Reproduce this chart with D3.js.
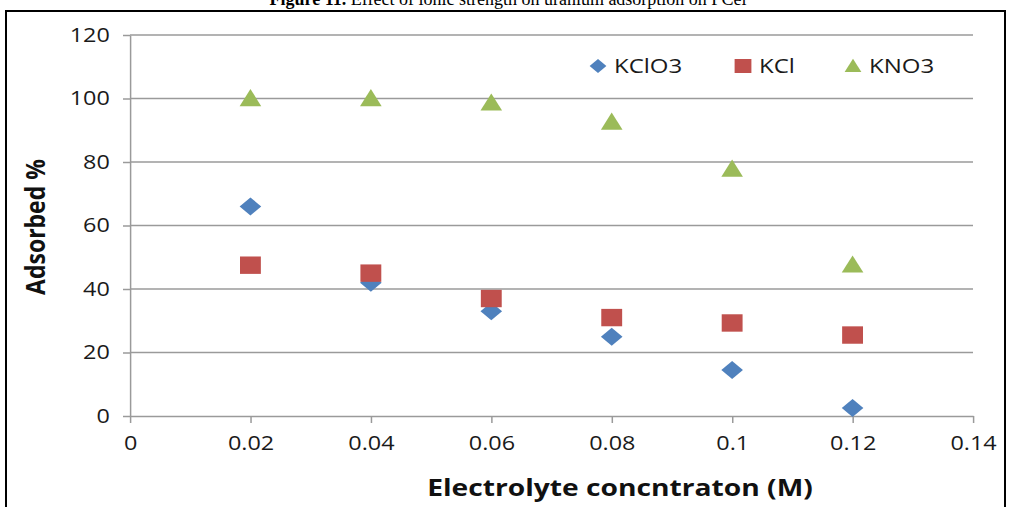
<!DOCTYPE html>
<html>
<head>
<meta charset="utf-8">
<script src="https://cdn.jsdelivr.net/npm/d3@7"></script>
<style>
  body { margin: 0; background: #fff; }
  text { font-family: "Open Sans", "Liberation Sans", sans-serif; }
</style>
</head>
<body>
<div id="chart-area"></div>
<script>
// Datos
var concentrations = [0.02, 0.04, 0.06, 0.08, 0.1, 0.12];
var kclo3 = [66, 42, 33, 25, 14.5, 2.5];
var kcl = [47.5, 45, 37, 31, 29.3, 25.5];
var kno3 = [100, 100, 98.6, 92.6, 77.8, 47.6];
var seriesNames = ["KClO3", "KCl", "KNO3"];
var xTicks = [0, 0.02, 0.04, 0.06, 0.08, 0.1, 0.12, 0.14];
var yTicks = [0, 20, 40, 60, 80, 100, 120];

var colors = ["#4F81BD", "#C0504D", "#9BBB59"];
var seriesValues = [kclo3, kcl, kno3];

var W = 1012, H = 507;
var kx = 1.2; // la imagen original está estirada horizontalmente

var svg = d3.select("#chart-area").append("svg")
    .attr("width", W)
    .attr("height", H);

// Marco negro y título recortado
svg.append("path")
    .attr("d", "M6," + H + "V11H1005V" + H)
    .attr("fill", "none")
    .attr("stroke", "#000")
    .attr("stroke-width", 2);

var title = svg.append("text")
    .attr("x", 508)
    .attr("y", 5)
    .attr("text-anchor", "middle")
    .style("font-family", "'Liberation Serif', serif")
    .style("font-size", "18px");
title.append("tspan").attr("font-weight", "bold").text("Figure 11.");
title.append("tspan").text(" Effect of ionic strength on uranium adsorption on PCel");

// Grupo del gráfico, escalado en x
var g = svg.append("g").attr("transform", "scale(" + kx + ",1)");

var x = d3.scaleLinear().domain([0, 0.14]).range([130 / kx, 973 / kx]);
var y = d3.scaleLinear().domain([0, 120]).range([416, 35]);

// Líneas de cuadrícula
g.append("g").selectAll("line")
    .data(yTicks.filter(function(d) { return d > 0; }))
    .enter().append("line")
    .attr("x1", x(0))
    .attr("x2", x(0.14))
    .attr("y1", function(d) { return y(d); })
    .attr("y2", function(d) { return y(d); })
    .attr("stroke", "#9a9a9a")
    .attr("stroke-width", 1.5)
    .attr("vector-effect", "non-scaling-stroke");

// Ejes
var yAxisGroup = g.append("g")
    .attr("transform", "translate(" + x(0) + ",0)")
    .call(d3.axisLeft(y).tickValues(yTicks).tickSize(7 / kx).tickSizeOuter(0).tickPadding(11));
var xAxisGroup = g.append("g")
    .attr("transform", "translate(0," + y(0) + ")")
    .call(d3.axisBottom(x).tickValues(xTicks).tickSize(7).tickSizeOuter(0)
        .tickPadding(10).tickFormat(function(d) { return String(+d.toFixed(2)); }));

[yAxisGroup, xAxisGroup].forEach(function(ax) {
    ax.selectAll("path, line")
        .attr("stroke", "#9a9a9a")
        .attr("stroke-width", 1.5)
        .attr("vector-effect", "non-scaling-stroke");
    ax.selectAll("text")
        .attr("fill", "#1a1a1a")
        .style("font-size", "19.5px")
        .style("font-family", "'Open Sans', sans-serif");
});
xAxisGroup.selectAll("text").attr("dy", "0.85em");

// Formas de los marcadores
function markerPath(i, s) {
    if (i === 0) return "M0," + (-s) + "L" + s + ",0L0," + s + "L" + (-s) + ",0Z";
    if (i === 1) return "M" + (-s) + "," + (-s) + "H" + s + "V" + s + "H" + (-s) + "Z";
    return "M0," + (-s * 1.05) + "L" + s + "," + (s * 0.85) + "L" + (-s) + "," + (s * 0.85) + "Z";
}
var markerSize = [9, 8.7, 9];

seriesValues.forEach(function(vals, i) {
    g.append("g").selectAll("path")
        .data(vals)
        .enter().append("path")
        .attr("transform", function(d, j) {
            return "translate(" + x(concentrations[j]) + "," + y(d) + ")";
        })
        .attr("d", markerPath(i, markerSize[i]))
        .attr("fill", colors[i]);
});

// Leyenda
var legendX = [598, 743, 853];
var legend = g.append("g");
seriesNames.forEach(function(name, i) {
    legend.append("path")
        .attr("transform", "translate(" + (legendX[i] / kx) + ",66)")
        .attr("d", markerPath(i, 7))
        .attr("fill", colors[i]);
    legend.append("text")
        .attr("x", (legendX[i] + 16) / kx)
        .attr("y", 66)
        .attr("dy", "0.35em")
        .attr("fill", "#1a1a1a")
        .style("font-size", "20px")
        .text(name);
});

// Títulos de los ejes
g.append("text")
    .attr("x", 620 / kx)
    .attr("y", 496)
    .attr("text-anchor", "middle")
    .attr("font-weight", "bold")
    .attr("fill", "#111")
    .style("font-size", "23.5px")
    .text("Electrolyte concntraton (M)");

g.append("text")
    .attr("transform", "translate(" + (45 / kx) + ",227) rotate(-90)")
    .attr("text-anchor", "middle")
    .attr("font-weight", "bold")
    .attr("fill", "#111")
    .style("font-size", "23px")
    .text("Adsorbed %");
</script>
</body>
</html>
